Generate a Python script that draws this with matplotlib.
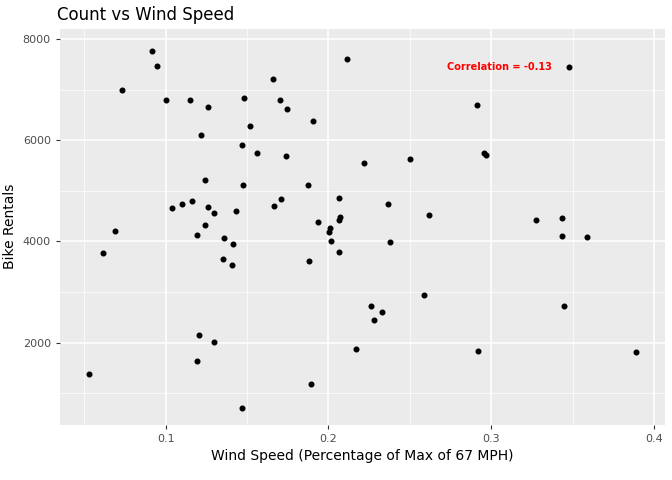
import matplotlib
matplotlib.use('Agg')
import matplotlib.pyplot as plt
from matplotlib.ticker import MultipleLocator

# wind speed (fraction of 67 mph) and rental counts
wind = [0.0914, 0.0945, 0.0731, 0.1, 0.1147, 0.1263, 0.122, 0.148, 0.152, 0.147,
        0.156, 0.166, 0.170, 0.1746, 0.1905, 0.174, 0.2116, 0.2914, 0.348, 0.2957,
        0.297, 0.250, 0.2217, 0.1245, 0.1477, 0.1875, 0.2064, 0.171, 0.1667, 0.2364,
        0.104, 0.110, 0.1165, 0.1263, 0.130, 0.143, 0.124, 0.1936, 0.207, 0.2064,
        0.262, 0.3275, 0.3434, 0.3434, 0.3587, 0.201, 0.2003, 0.2015, 0.2376, 0.119,
        0.136, 0.1416, 0.0688, 0.0615, 0.2064, 0.1355, 0.141, 0.188, 0.259, 0.226,
        0.2327, 0.2278, 0.3446, 0.1208, 0.130, 0.2168, 0.292, 0.3893, 0.119, 0.0529,
        0.1893, 0.147]
count = [7769, 7462, 7000, 6788, 6788, 6654, 6096, 6827, 6288, 5904,
         5750, 7212, 6788, 6615, 6385, 5692, 7596, 6692, 7442, 5750,
         5712, 5635, 5558, 5212, 5115, 5115, 4865, 4846, 4692, 4731,
         4654, 4750, 4808, 4673, 4558, 4596, 4327, 4385, 4481, 4423,
         4519, 4423, 4462, 4115, 4096, 4269, 4192, 4000, 3981, 4135,
         4077, 3942, 4212, 3769, 3788, 3654, 3538, 3615, 2942, 2731,
         2615, 2442, 2731, 2154, 2019, 1885, 1846, 1827, 1635, 1385,
         1192, 712]
corr_label = "Correlation = -0.13"

fig, ax = plt.subplots(figsize=(6.72, 4.8), dpi=100)
fig.subplots_adjust(left=0.089, right=0.99, top=0.94, bottom=0.115)

# ggplot grey look
ax.set_facecolor('#EBEBEB')
for s in ax.spines.values():
    s.set_visible(False)
ax.xaxis.set_major_locator(MultipleLocator(0.1))
ax.xaxis.set_minor_locator(MultipleLocator(0.05))
ax.yaxis.set_major_locator(MultipleLocator(2000))
ax.yaxis.set_minor_locator(MultipleLocator(1000))
ax.grid(True, which='major', color='white', linewidth=1.1)
ax.grid(True, which='minor', color='white', linewidth=0.5)
ax.set_axisbelow(True)
ax.tick_params(which='both', colors='#333333', labelsize=8, length=3)
ax.tick_params(which='minor', length=0)
for lbl in ax.get_xticklabels() + ax.get_yticklabels():
    lbl.set_color('#4D4D4D')

ax.scatter(wind, count, s=11, color='black', zorder=3)
ax.text(0.305, 7440, corr_label, color='red', fontsize=7, ha='center',
        va='center', fontweight='bold')

ax.set_xlim(0.035, 0.407)
ax.set_ylim(380, 8200)
ax.set_xlabel('Wind Speed (Percentage of Max of 67 MPH)', fontsize=10)
ax.set_ylabel('Bike Rentals', fontsize=10)
ax.set_title('Count vs Wind Speed', fontsize=12, loc='left', x=-0.005)

fig.savefig('out.png', dpi=100)
